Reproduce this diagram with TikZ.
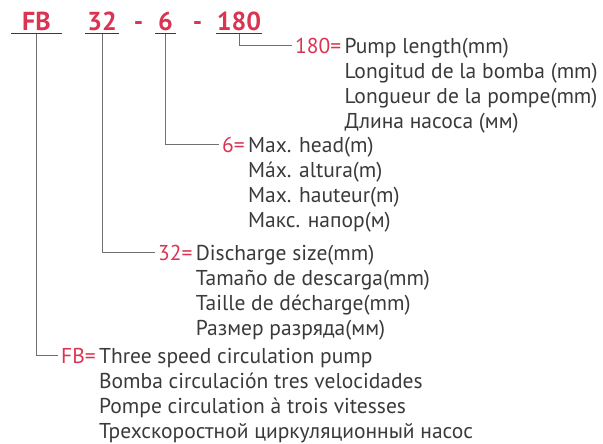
\documentclass[tikz,border=0pt]{standalone}
\usepackage{fontspec}
\setmainfont{PT Sans}
\usepackage{xcolor}
\usepackage{tikz}
\usetikzlibrary{calc, positioning}

\definecolor{codered}{HTML}{DA3452}
\definecolor{textgray}{HTML}{3A3A3A}
\definecolor{linegray}{HTML}{707070}

\tikzset{
    code/.style={font=\fontsize{26}{26}\selectfont\bfseries, text=codered,
        inner xsep=0pt, inner ysep=3pt, text depth=0pt, anchor=south},
    uline/.style={draw=textgray, line width=1pt},
    lead/.style={draw=linegray, line width=1pt},
    key/.style={font=\fontsize{21.5}{25}\selectfont, text=codered,
        inner xsep=3pt, inner ysep=0pt, anchor=west},
    desc/.style={font=\fontsize{21.5}{25}\selectfont, text=textgray,
        inner xsep=0pt, inner ysep=0pt, anchor=base west}
}

\begin{document}
\begin{tikzpicture}[x=1pt, y=1pt]
    \useasboundingbox (0,0) rectangle (603,444);

    % Kí hiệu model
    \node[code, minimum width=51pt] (fb) at (36.5,410) {FB};
    \node[code, minimum width=33pt] (dn) at (102,410) {32};
    \node[code] (dasha) at (138.5,410) {-};
    \node[code, minimum width=20pt] (hd) at (165.5,410) {6};
    \node[code] (dashb) at (197.5,410) {-};
    \node[code, minimum width=45pt] (ln) at (239,410) {180};

    % Gạch chân
    \foreach \c in {fb, dn, hd, ln} {
        \draw[uline] (\c.south west) -- (\c.south east);
    }

    % Chú thích 180
    \node[key] (lnkey) at (292,398) {180=};
    \node[desc] (lndesc) at (lnkey.base east) {\begin{tabular}[t]{@{}l@{}}
        Pump length(mm)\\ Longitud de la bomba (mm)\\
        Longueur de la pompe(mm)\\ Длина насоса (мм)\end{tabular}};

    % Chú thích 6
    \node[key] (hdkey) at (219,299) {6=};
    \node[desc] (hddesc) at (hdkey.base east) {\begin{tabular}[t]{@{}l@{}}
        Max. head(m)\\ Máx. altura(m)\\
        Max. hauteur(m)\\ Макс. напор(м)\end{tabular}};

    % Chú thích 32
    \node[key] (dnkey) at (155,191) {32=};
    \node[desc] (dndesc) at (dnkey.base east) {\begin{tabular}[t]{@{}l@{}}
        Discharge size(mm)\\ Tamaño de descarga(mm)\\
        Taille de décharge(mm)\\ Размер разряда(мм)\end{tabular}};

    % Chú thích FB
    \node[key] (fbkey) at (58,88) {FB=};
    \node[desc] (fbdesc) at (fbkey.base east) {\begin{tabular}[t]{@{}l@{}}
        Three speed circulation pump\\ Bomba circulación tres velocidades\\
        Pompe circulation à trois vitesses\\ Трехскоростной циркуляционный насос\end{tabular}};

    % Đường dẫn
    \draw[lead] (ln.south) |- (lnkey.west);
    \draw[lead] (hd.south) |- (hdkey.west);
    \draw[lead] (dn.south) |- (dnkey.west);
    \draw[lead] (fb.south) |- (fbkey.west);
\end{tikzpicture}
\end{document}
